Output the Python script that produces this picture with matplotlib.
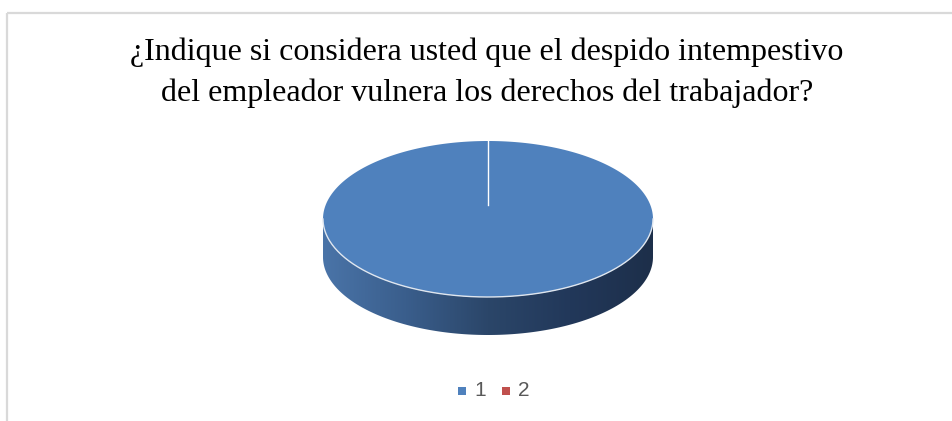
import numpy as np
import matplotlib.pyplot as plt
from matplotlib.patches import Polygon, Rectangle
from matplotlib.colors import LinearSegmentedColormap

title = "¿Indique si considera usted que el despido intempestivo\ndel empleador vulnera los derechos del trabajador?"
labels = ["1", "2"]
values = [100, 0]
colors = ["#4F81BD", "#C0504D"]

W, H = 953, 421
fig = plt.figure(figsize=(W / 100, H / 100), dpi=100)
ax = fig.add_axes([0, 0, 1, 1])
ax.set_xlim(0, W)
ax.set_ylim(H, 0)
ax.axis("off")

# chart frame (only left/top edges visible in the crop)
ax.add_patch(Rectangle((7, 13), W, H, fill=False, edgecolor="#d9d9d9", lw=1.6))

ax.text(487, 52, title.split("\n")[0], ha="center", va="center",
        fontsize=23, family="Liberation Serif", color="#000000")
ax.text(487, 93, title.split("\n")[1], ha="center", va="center",
        fontsize=23, family="Liberation Serif", color="#000000")

# pie geometry (pixels)
cx, cy = 488, 219
rx, ry = 165, 78
depth = 38


def pt(a):
    return cx + rx * np.cos(a), cy - ry * np.sin(a)


# side (front half), gradient fill
t = np.linspace(np.pi, 2 * np.pi, 200)
xs, ys = pt(t)
side = np.concatenate([np.c_[xs, ys], np.c_[xs[::-1], ys[::-1] + depth]])
side_patch = Polygon(side, closed=True, facecolor="none", edgecolor="none")
ax.add_patch(side_patch)
cmap = LinearSegmentedColormap.from_list("side", ["#4a74a8", "#3a5e8c", "#2b4669", "#22385a", "#1d2f4a"])
grad = np.linspace(0, 1, 256)[None, :]
im = ax.imshow(grad, cmap=cmap, extent=(cx - rx, cx + rx, cy + ry + depth, cy),
               aspect="auto", zorder=2)
im.set_clip_path(side_patch)

# top faces from values
total = sum(values)
start = np.pi / 2
for v, c in zip(values, colors):
    if v == 0:
        continue
    sweep = 2 * np.pi * v / total
    a = np.linspace(start, start - sweep, 300)
    px, py = pt(a)
    if v < total:
        poly = np.c_[np.r_[cx, px], np.r_[cy, py]]
    else:
        poly = np.c_[px, py]
    ax.add_patch(Polygon(poly, closed=True, facecolor=c, edgecolor="none", zorder=3))
    start -= sweep

# slice boundaries
start = np.pi / 2
for v in values:
    bx, by = pt(start)
    ax.plot([cx, bx], [cy - 14, by], color="white", lw=1, zorder=4)
    start -= 2 * np.pi * v / total
    if total == max(values):
        break

# light rim between top and side
rx_, ry_ = pt(t)
ax.plot(rx_, ry_, color="#dfe6ef", lw=1, zorder=4)

# legend
lx = 458
for lab, c in zip(labels, colors):
    ax.add_patch(Rectangle((lx, 387), 8, 8, facecolor=c, edgecolor="none"))
    ax.text(lx + 16, 391, lab, ha="left", va="center", fontsize=15,
            family="Liberation Sans", color="#595959")
    lx += 44

fig.savefig("out.png", dpi=100)
